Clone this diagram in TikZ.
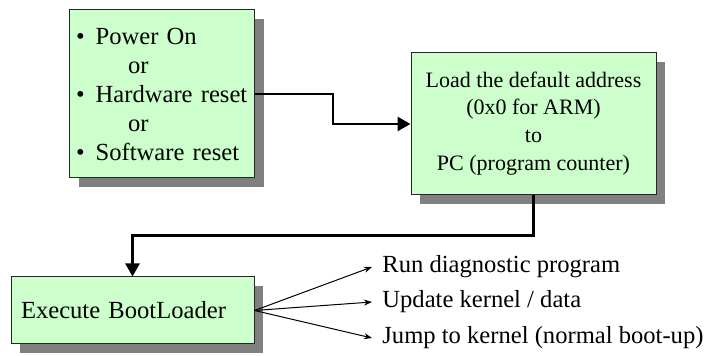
\documentclass[tikz,border=0pt]{standalone}
\usepackage{fontspec}
\setmainfont{Liberation Serif}
\usetikzlibrary{positioning}
\usetikzlibrary{arrows.meta, shadows}
\definecolor{boxgreen}{RGB}{204,255,204}

\begin{document}
\begin{tikzpicture}[x=0.5pt, y=-0.5pt,
    box/.style={draw=black!85, line width=0.5pt, fill=boxgreen,
        drop shadow={shadow xshift=4.5pt, shadow yshift=-4.5pt, fill=black!50, opacity=1},
        font=\fontsize{12.3}{14.5}\selectfont},
    flow/.style={line width=1.2pt, -{Triangle[length=6.5pt, width=7pt]}},
    fan/.style={line width=0.5pt, -{Stealth[length=4pt, width=3pt]}},
    choice/.style={anchor=west, inner xsep=5pt, font=\fontsize{12.3}{14.5}\selectfont}]
    \useasboundingbox (0,0) rectangle (706,356);

    % Reset sources
    \node[box, minimum width=92.5pt, minimum height=84pt, text width=86pt, align=left, inner xsep=3pt]
        (reset) at (162, 94) {\textbullet\hspace{0.45em}Power On\\\hspace*{26pt}or\\
        \textbullet\hspace{0.45em}Hardware reset\\\hspace*{26pt}or\\
        \textbullet\hspace{0.45em}Software reset};

    % Load default address
    \node[box, minimum width=122.5pt, minimum height=71pt, align=center, text depth=3pt,
        font=\fontsize{11}{13.8}\selectfont]
        (load) at (533.5, 124) {Load the default address\\(0x0 for ARM)\\to\\PC (program counter)};

    % Boot loader
    \node[box, minimum width=121.5pt, minimum height=33.5pt, text width=111.5pt, align=left, inner xsep=5pt]
        (boot) at (132.5, 310.5) {Execute BootLoader};

    % Choices
    \node[choice] (diag) at (372, 267) {Run diagnostic program};
    \node[choice] (update) at (372, 302) {Update kernel / data};
    \node[choice] (jump) at (372, 338) {Jump to kernel (normal boot-up)};

    \draw[flow] (reset.east) -- ++(78, 0) |- (load.west);
    \draw[flow] (load.south) -- ++(0, 40) -| (boot.north);

    \draw[fan] (boot.east) -- (diag.west);
    \draw[fan] (boot.east) -- (update.west);
    \draw[fan] (boot.east) -- (jump.west);
\end{tikzpicture}
\end{document}
